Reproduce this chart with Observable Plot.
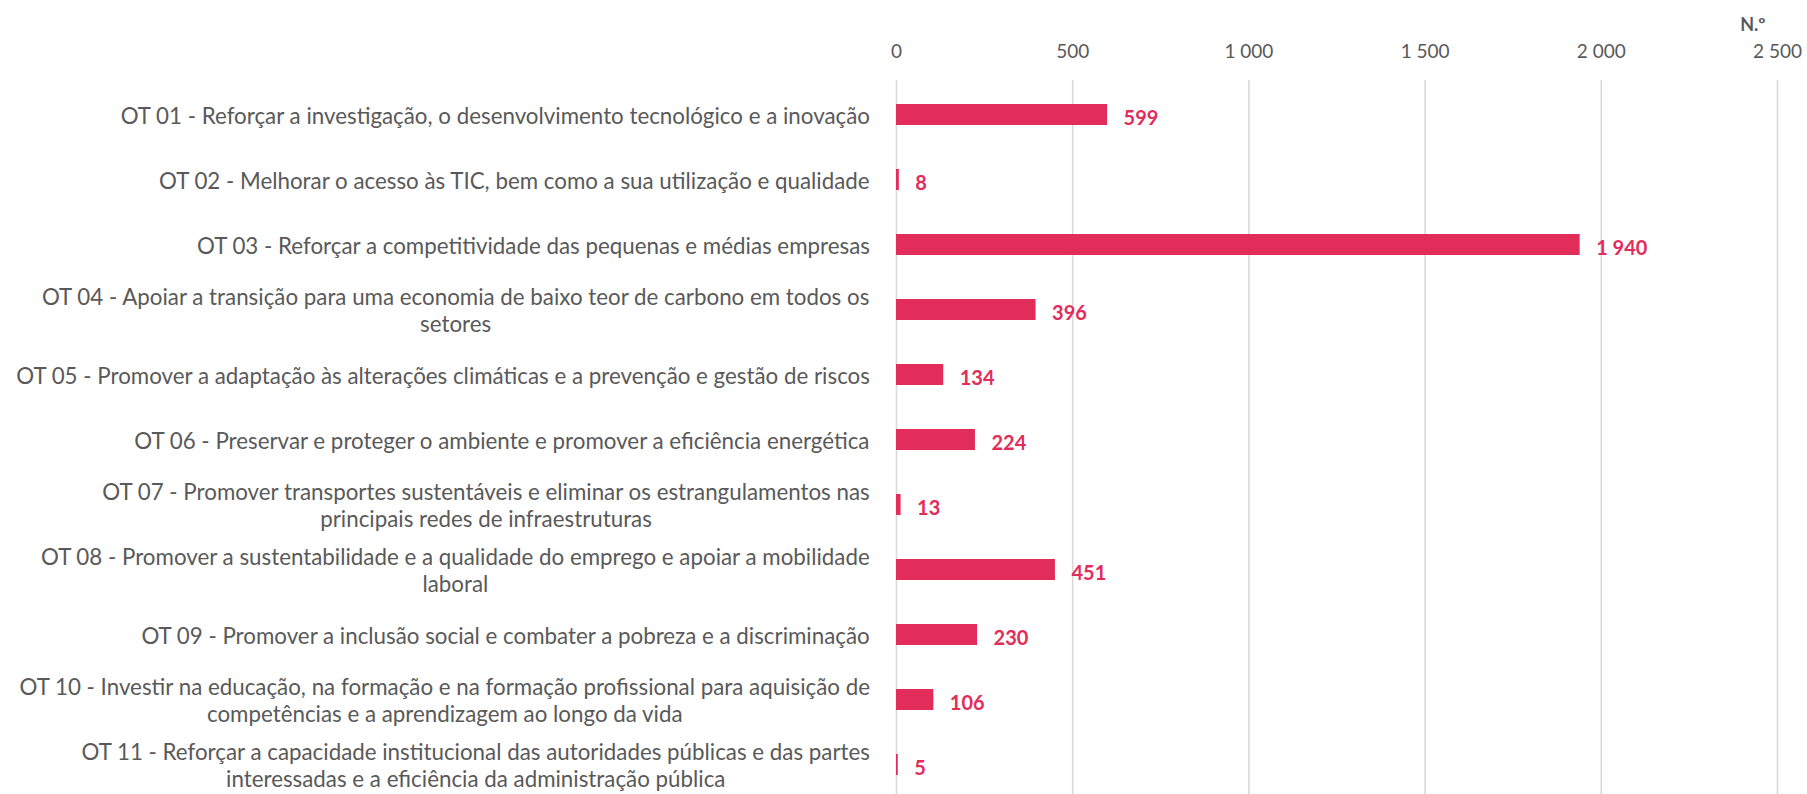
<!DOCTYPE html>
<html><head><meta charset="utf-8">
<script src="https://cdn.jsdelivr.net/npm/d3@7"></script>
<script src="https://cdn.jsdelivr.net/npm/@observablehq/plot@0.6"></script>
<style>html,body{margin:0;padding:0;background:#fff;overflow:hidden}</style>
</head><body><div id="chart"></div>
<script>
const categories = [
  "OT 01 - Reforçar a investigação, o desenvolvimento tecnológico e a inovação",
  "OT 02 - Melhorar o acesso às TIC, bem como a sua utilização e qualidade",
  "OT 03 - Reforçar a competitividade das pequenas e médias empresas",
  "OT 04 - Apoiar a transição para uma economia de baixo teor de carbono em todos os\nsetores",
  "OT 05 - Promover a adaptação às alterações climáticas e a prevenção e gestão de riscos",
  "OT 06 - Preservar e proteger o ambiente e promover a eficiência energética",
  "OT 07 - Promover transportes sustentáveis e eliminar os estrangulamentos nas\nprincipais redes de infraestruturas",
  "OT 08 - Promover a sustentabilidade e a qualidade do emprego e apoiar a mobilidade\nlaboral",
  "OT 09 - Promover a inclusão social e combater a pobreza e a discriminação",
  "OT 10 - Investir na educação, na formação e na formação profissional para aquisição de\ncompetências e a aprendizagem ao longo da vida",
  "OT 11 - Reforçar a capacidade institucional das autoridades públicas e das partes\ninteressadas e a eficiência da administração pública"
];
const values = [599, 8, 1940, 396, 134, 224, 13, 451, 230, 106, 5];
const xTicks = [0, 500, 1000, 1500, 2000, 2500];
const unitLabel = "N.º";

const FONT = "Lato";
const barColor = "#e22c5a";
const textColor = "#595959";
const locale = d3.formatLocale({decimal: ",", thousands: "\u00a0", grouping: [3], currency: ["", "€"]});
const fmt = locale.format(",d");

const canvas = document.createElement("canvas");
const ctx = canvas.getContext("2d");
function measure(text, size) { ctx.font = `${size}px ${FONT}`; return ctx.measureText(text).width; }
const labelSize = 20 * 855 / measure(categories[4], 20);

const data = categories.map((c, i) => ({cat: c, value: values[i]}));

const labelMarks = categories.map(c => {
  const lines = c.split("\n");
  const bw = Math.max(...lines.map(l => measure(l, labelSize)));
  return Plot.text([c], {
    y: d => d, frameAnchor: "left", textAnchor: "middle",
    dx: -26 - bw / 2, lineHeight: 1.22, fontSize: labelSize, fill: textColor
  });
});

const chart = Plot.plot({
  width: 1807, height: 794,
  marginLeft: 896, marginRight: 30, marginTop: 80, marginBottom: -4,
  x: {domain: [0, 2500], axis: null},
  y: {domain: categories, axis: null, paddingInner: 0.68, paddingOuter: 0.34},
  style: {fontFamily: FONT, color: textColor, background: "#fff"},
  marks: [
    Plot.gridX(xTicks, {stroke: "#d9d9d9", strokeOpacity: 1, strokeWidth: 1.6}),
    Plot.axisX(xTicks, {anchor: "top", tickSize: 0, tickPadding: 23, tickFormat: fmt, fontSize: 19, label: null}),
    Plot.barX(data, {x: "value", y: "cat", fill: barColor}),
    Plot.text(data, {x: "value", y: "cat", text: d => fmt(d.value), dx: 16, dy: 4, textAnchor: "start",
      fill: barColor, fontWeight: "bold", fontSize: 20}),
    ...labelMarks,
    Plot.text([unitLabel], {frameAnchor: "top-right", dx: -12, dy: -62, fontWeight: "bold", fontSize: 18, fill: textColor})
  ]
});
document.getElementById("chart").appendChild(chart);
</script>
</body></html>
